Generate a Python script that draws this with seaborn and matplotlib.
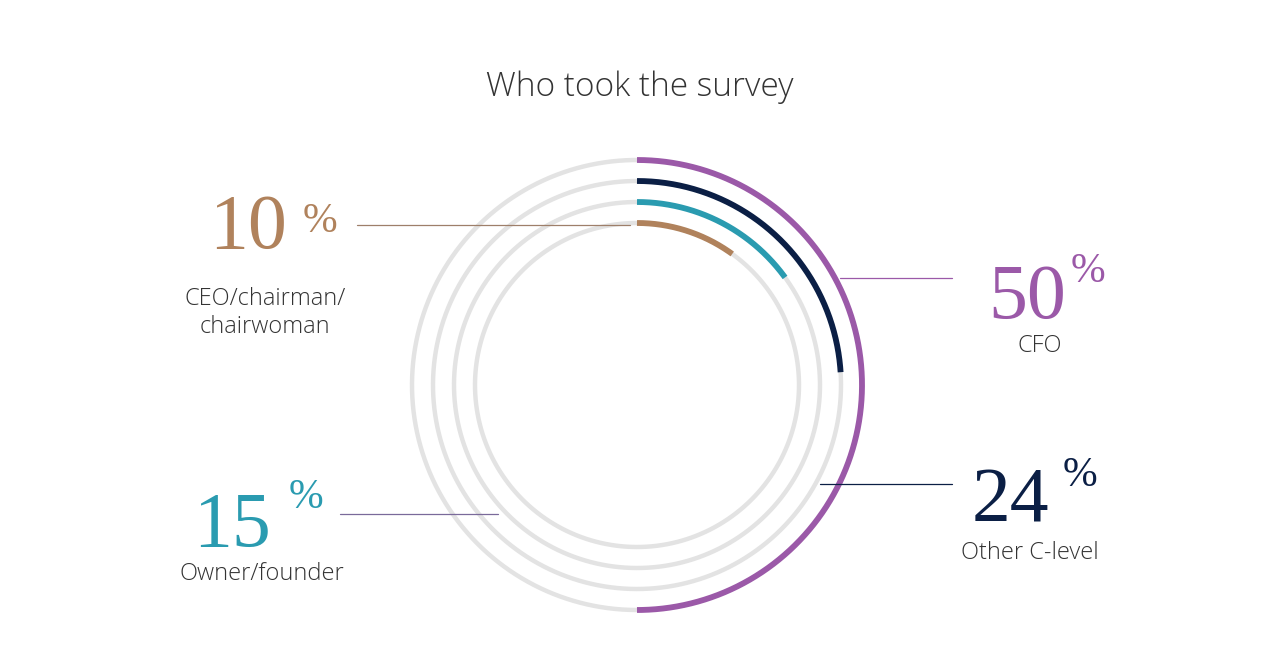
import numpy as np
import matplotlib
matplotlib.use("Agg")
import matplotlib.pyplot as plt
import seaborn as sns

sns.set_theme(style="white")

# data
roles = ["CFO", "Other C-level", "Owner/founder", "CEO/chairman/\nchairwoman"]
shares = [50, 24, 15, 10]
colors = ["#9b59a8", "#0b1f45", "#2a9bb0", "#b0825c"]

CX, CY = 637, 385
radii = [225, 204, 183, 162]

fig = plt.figure(figsize=(12.8, 6.69), dpi=100)
ax = fig.add_axes([0, 0, 1, 1])
ax.set_xlim(0, 1280)
ax.set_ylim(669, 0)
ax.set_aspect("equal")
ax.axis("off")

full = np.linspace(0, 2 * np.pi, 400)
for r, share, col in zip(radii, shares, colors):
    ax.plot(CX + r * np.cos(full), CY + r * np.sin(full), color="#e3e3e3", lw=3.2,
            solid_capstyle="butt")
    th = np.linspace(0, 2 * np.pi * share / 100, 300)
    ax.plot(CX + r * np.sin(th), CY - r * np.cos(th), color=col, lw=4.2,
            solid_capstyle="butt")

ax.text(640, 87, "Who took the survey", ha="center", va="center", fontsize=24,
        color="#333333", family="Open Sans", fontweight="light")

# leader lines
ax.plot([357, 630], [225, 225], color="#9e7f6a", lw=0.9)
ax.plot([840, 952], [278, 278], color="#9b59a8", lw=0.9)
ax.plot([820, 952], [484, 484], color="#0b1f45", lw=0.9)
ax.plot([340, 498], [514, 514], color="#7a6a9a", lw=0.9)

serif = "Liberation Serif"
sans = "Open Sans"
# (number x, number baseline y, pct x, pct y, label x, label y, align)
labels = [
    (1027, 318, 1088, 272, 1040, 346, "center"),
    (1010, 522, 1080, 476, 1030, 553, "center"),
    (232, 546, 306, 498, 262, 574, "center"),
    (248, 248, 320, 222, 265, 313, "center"),
]
for (nx, ny, px, py, lx, ly, al), share, role, col in zip(labels, shares, roles, colors):
    ax.text(nx, ny, str(share), ha="center", va="baseline", fontsize=56,
            family=serif, color=col)
    ax.text(px, py, "%", ha="center", va="center", fontsize=30, family=serif, color=col)
    ax.text(lx, ly, role, ha="center", va="center", fontsize=17, family=sans,
            color="#333333", linespacing=1.2, fontweight="light")

fig.savefig("out.png", dpi=100)
